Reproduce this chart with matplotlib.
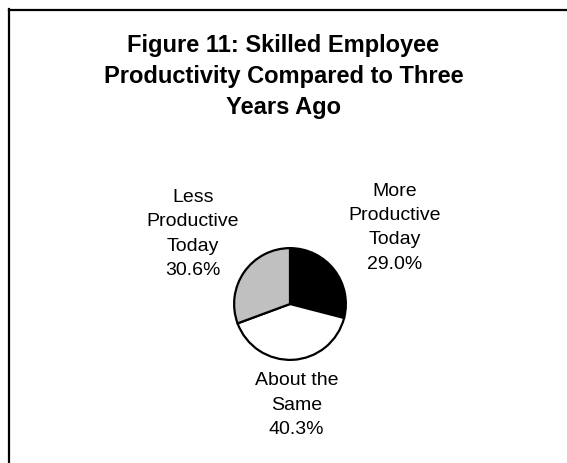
import matplotlib.pyplot as plt
from matplotlib.lines import Line2D

plt.rcParams['font.family'] = ['Liberation Sans', 'DejaVu Sans']

title = "Figure 11: Skilled Employee\nProductivity Compared to Three\nYears Ago"
categories = ["More\nProductive\nToday", "About the\nSame", "Less\nProductive\nToday"]
shares = [29.0, 40.3, 30.6]
colors = ["#000000", "#ffffff", "#c0c0c0"]

W, H = 567, 464
fig = plt.figure(figsize=(W / 100, H / 100), dpi=100)

# frame: only the left and top edges fall inside the canvas
fig.add_artist(Line2D([9 / W, 9 / W], [0, 1 - 10 / H], color="black", lw=1.6,
                      transform=fig.transFigure))
fig.add_artist(Line2D([9 / W, 1], [1 - 11 / H, 1 - 11 / H], color="black", lw=1.6,
                      transform=fig.transFigure))

fig.text(0.5, 1 - 34 / H, title, ha="center", va="top", fontsize=17,
         fontweight="bold", linespacing=1.45)

# pie: centre (290, 305) px, radius 57 px
cx, cy, r = 290, 305, 57
ax = fig.add_axes([(cx - r) / W, (H - cy - r) / H, 2 * r / W, 2 * r / H])
ax.pie(shares, colors=colors, startangle=90, counterclock=False, radius=1,
       wedgeprops=dict(edgecolor="black", linewidth=1.6))
ax.set_xlim(-1.02, 1.02)
ax.set_ylim(-1.02, 1.02)
ax.set_aspect("equal")
ax.axis("off")

# label offsets in pie radii
label_pos = [(1.88, 1.38), (0.12, -1.79), (-1.74, 1.27)]
for name, val, (lx, ly) in zip(categories, shares, label_pos):
    ax.text(lx, ly, f"{name}\n{val:.1f}%", ha="center", va="center",
            fontsize=14, linespacing=1.55, clip_on=False)

fig.savefig("out.png", dpi=100)
